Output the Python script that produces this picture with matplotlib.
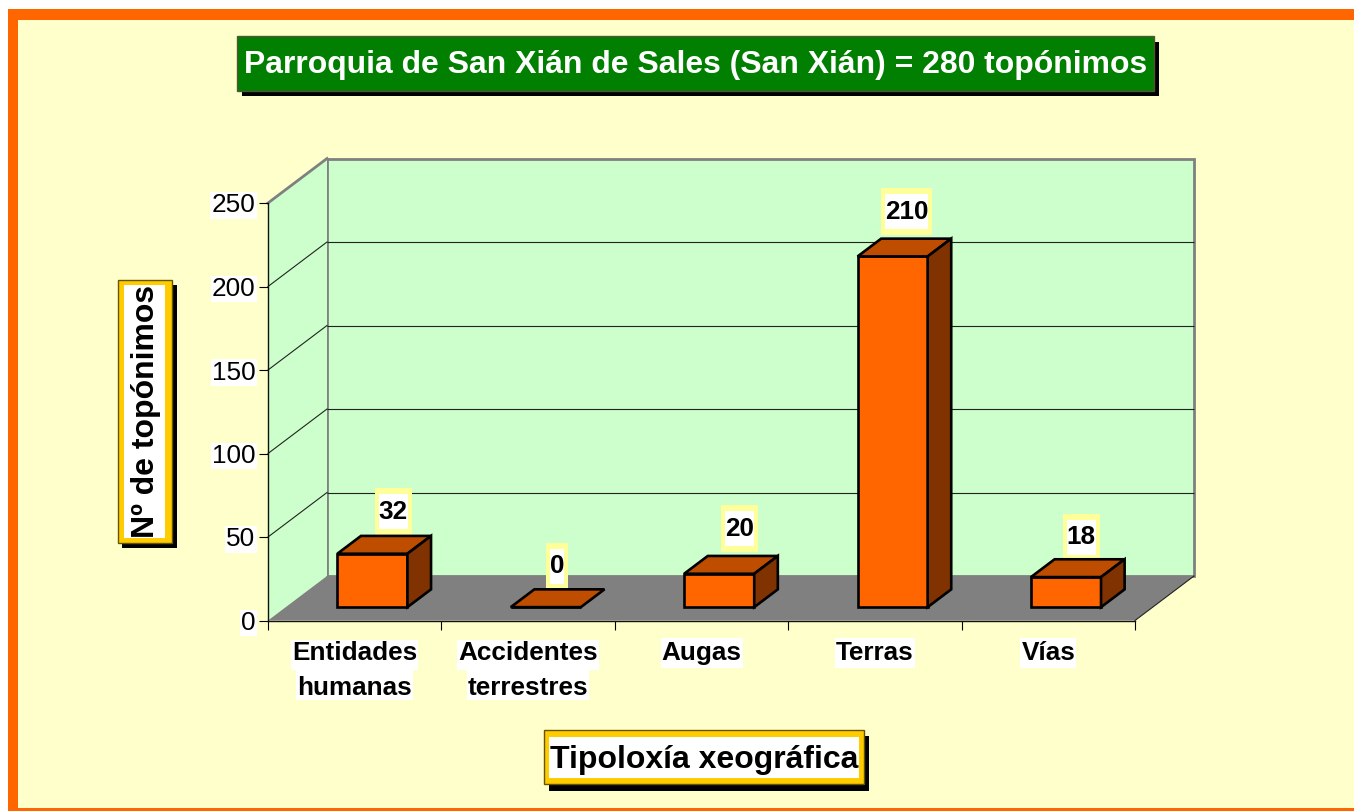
import matplotlib
matplotlib.use("Agg")
import matplotlib.pyplot as plt
from matplotlib.patches import Polygon, Rectangle
from matplotlib.transforms import Affine2D, IdentityTransform

categories = ["Entidades\nhumanas", "Accidentes\nterrestres", "Augas", "Terras", "Vías"]
values = [32, 0, 20, 210, 18]
y_ticks = [0, 50, 100, 150, 200, 250]
title_text = "Parroquia de San Xián de Sales (San Xián) = 280 topónimos"
x_title = "Tipoloxía xeográfica"
y_title = "Nº de topónimos"
label_shift_x = [21, 11, 20, 14, 15]
label_shift_y = [24, 23, 27, 27, 22]

W, H = 1354, 811
DX, DY = 59.0, 44.5
FONT = "Liberation Sans"
ORANGE, TOP, SIDE = "#FF6600", "#BF4D00", "#803300"
GREY, WALL, CREAM = "#808080", "#CCFFCC", "#FFFFCC"

fig = plt.figure(figsize=(W / 100, H / 100), dpi=100, facecolor="white")
pix = Affine2D().scale(1 / W, -1 / H).translate(0, 1) + fig.transFigure


def frame_rect(x0, y0, x1, y1, fc, ec="none", lw=0, z=-5):
    fig.add_artist(Rectangle((x0, y0), x1 - x0, y1 - y0, transform=pix, facecolor=fc,
                             edgecolor=ec, linewidth=lw, zorder=z))


frame_rect(8, 9, W, H, ORANGE, z=-10)
frame_rect(18, 20, W, 808, CREAM, z=-9)
# title box
frame_rect(242, 42, 1159, 96, "black", z=-8)
frame_rect(236.5, 36, 1153.5, 91, "#007F00", ec="#555533", lw=1, z=-7)
# x title box
frame_rect(549, 736, 869, 790.5, "black", z=-8)
frame_rect(544, 730, 863.5, 784, "#FFCC00", ec="#665500", lw=1, z=-7)
frame_rect(549, 737, 859, 778, "white", z=-6)
# y title box
frame_rect(122, 285, 176.5, 548, "black", z=-8)
frame_rect(117.5, 280, 171.5, 543, "#FFCC00", ec="#665500", lw=1, z=-7)
frame_rect(124, 285, 165, 538, "white", z=-6)

ax = fig.add_axes([268 / W, (H - 620.5) / H, 867 / W, 417.5 / H])
ax.patch.set_visible(False)
ax.set_xlim(0, len(categories))
ax.set_ylim(0, 250)
n = len(categories)


def proj(x, y, d):
    px, py = ax.transData.transform((x, y))
    return (px + DX * d, py + DY * d)


def poly(points, fc, ec="none", lw=0.0, z=1):
    ax.add_patch(Polygon(points, closed=True, transform=IdentityTransform(), facecolor=fc,
                         edgecolor=ec, linewidth=lw, zorder=z, clip_on=False, joinstyle="miter"))


# walls and floor
poly([proj(0, 0, 1), proj(n, 0, 1), proj(n, 250, 1), proj(0, 250, 1)], WALL, GREY, 2.0, 1)
poly([proj(0, 0, 0), proj(0, 0, 1), proj(0, 250, 1), proj(0, 250, 0)], WALL, "none", 0, 1)
ax.plot(*zip(proj(0, 250, 0), proj(0, 250, 1)), transform=IdentityTransform(), color=GREY,
        lw=2.0, zorder=1.5, clip_on=False)
back = ax.transData + Affine2D().translate(DX, DY)
ax.hlines(y_ticks[1:-1], 0, n, transform=back, color="#222222", lw=0.8, zorder=1.6, clip_on=False)
for v in y_ticks[1:-1]:
    ax.plot(*zip(proj(0, v, 0), proj(0, v, 1)), transform=IdentityTransform(), color="#222222",
            lw=0.8, zorder=1.6, clip_on=False)
poly([proj(0, 0, 0), proj(n, 0, 0), proj(n, 0, 1), proj(0, 0, 1)], GREY, "none", 0, 2)
ax.plot(*zip(proj(n, 0, 0), proj(n, 0, 1)), transform=IdentityTransform(), color="#222222",
        lw=0.8, zorder=2.1, clip_on=False)

# bars
D0, D1 = 0.30, 0.70
BW = 0.404
EDGE = 1.9
front = ax.transData + Affine2D().translate(DX * D0, DY * D0)
centers = [i + 0.5 for i in range(n)]
ax.bar(centers, values, width=BW, color=ORANGE, edgecolor="black", linewidth=EDGE,
       transform=front, zorder=3, clip_on=False)
for c, v in zip(centers, values):
    a, b = c - BW / 2, c + BW / 2
    poly([proj(a, v, D0), proj(b, v, D0), proj(b, v, D1), proj(a, v, D1)], TOP, "black", EDGE, 3.1)
    if v > 0:
        poly([proj(b, 0, D0), proj(b, 0, D1), proj(b, v, D1), proj(b, v, D0)], SIDE, "black", EDGE, 3.1)

# axes
for s in ("top", "right"):
    ax.spines[s].set_visible(False)
for s in ("left", "bottom"):
    ax.spines[s].set_color("#111111")
    ax.spines[s].set_linewidth(1.0)
    ax.spines[s].set_zorder(4)
ax.set_yticks(y_ticks)
ax.set_xticks(range(n + 1))
ax.set_xticklabels([])
ax.set_xticks(centers, labels=categories, minor=True)
ax.tick_params(axis="y", length=6.5, width=0.8, pad=2.5, labelsize=18.8, labelfontfamily=FONT)
ax.tick_params(axis="x", which="major", length=6.5, width=0.8)
ax.tick_params(axis="x", which="minor", length=0, pad=14.5, labelsize=18.8)
for lab in ax.get_yticklabels():
    lab.set_bbox(dict(facecolor="white", edgecolor="none", pad=1.0))
for lab in ax.get_xticklabels(minor=True):
    lab.set_fontfamily(FONT)
    lab.set_fontweight("bold")
    lab.set_linespacing(1.6)

renderer = fig.canvas.get_renderer()
for lab, name in zip(ax.get_xticklabels(minor=True), categories):
    ext = lab.get_window_extent(renderer)
    lines = name.split("\n")
    row = ext.height / len(lines)
    for k, line in enumerate(lines):
        w, _, _ = renderer.get_text_width_height_descent(line, lab.get_fontproperties(), False)
        cx = (ext.x0 + ext.x1) / 2
        mid = ext.y1 - (k + 0.5) * row
        fig.add_artist(Rectangle((cx - w / 2 - 1, mid - 15), w + 2, 30,
                                 transform=IdentityTransform(), facecolor="white",
                                 edgecolor="none", zorder=-4))

# data labels
for c, v, sx, sy in zip(centers, values, label_shift_x, label_shift_y):
    tr = ax.transData + Affine2D().translate(DX * 0.3 + sx, DY * D1 + sy)
    t = ax.text(c, v, str(v), transform=tr, ha="center", va="center", fontsize=18.8,
                fontweight="bold", fontfamily=FONT, zorder=6, clip_on=False)
    e = t.get_window_extent(renderer)
    cx, cy = (e.x0 + e.x1) / 2, (e.y0 + e.y1) / 2
    ax.add_patch(Rectangle((e.x0 - 4, cy - 23.5), e.width + 8, 47, transform=IdentityTransform(),
                           facecolor="#FFFF99", edgecolor="none", zorder=2.8, clip_on=False))
    ax.add_patch(Rectangle((e.x0, cy - 17.5), e.width, 35, transform=IdentityTransform(),
                           facecolor="white", edgecolor="none", zorder=2.9, clip_on=False))

# titles
fig.text(696 / W, 1 - 65 / H, title_text, color="white", fontsize=22.95, fontweight="bold",
         fontfamily=FONT, ha="center", va="center")
ax.set_xlabel(x_title, fontsize=23.0, fontweight="bold", fontfamily=FONT, ha="center", va="center")
ax.xaxis.set_label_coords(704 / W, 1 - 760 / H, transform=fig.transFigure)
ax.set_ylabel(y_title, fontsize=23.0, fontweight="bold", fontfamily=FONT, ha="center", va="center")
ax.yaxis.set_label_coords(146 / W, 1 - 411 / H, transform=fig.transFigure)

fig.savefig("out.png", dpi=100, facecolor="white")
